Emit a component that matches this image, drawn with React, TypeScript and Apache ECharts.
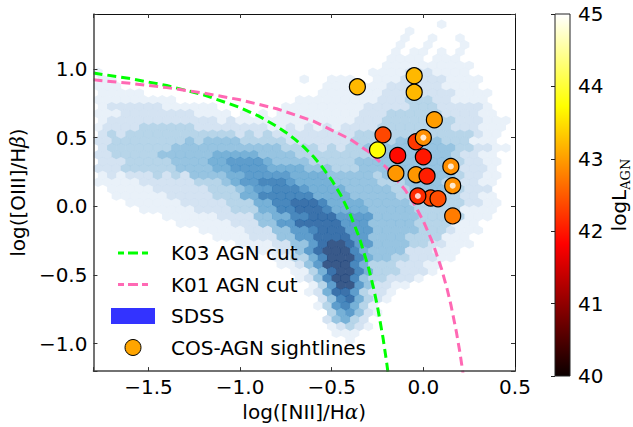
import React, { useEffect, useRef } from 'react';
import * as echarts from 'echarts';

// ---------------- data ----------------
// Kauffmann et al. (2003) demarcation
const k03X = [-1.8, -1.6, -1.4, -1.2, -1.0, -0.9, -0.8, -0.75, -0.7, -0.65, -0.6, -0.55, -0.5, -0.45, -0.4, -0.35, -0.3, -0.27, -0.25, -0.22, -0.2, -0.19];
const k03Y = [0.970, 0.930, 0.879, 0.812, 0.719, 0.658, 0.582, 0.538, 0.487, 0.429, 0.362, 0.283, 0.191, 0.080, -0.056, -0.225, -0.443, -0.606, -0.733, -0.959, -1.140, -1.242];
// Kewley et al. (2001) demarcation
const k01X = [-1.8, -1.6, -1.4, -1.2, -1.0, -0.8, -0.6, -0.4, -0.3, -0.2, -0.1, -0.05, 0.0, 0.05, 0.1, 0.13, 0.15, 0.18, 0.2, 0.22];
const k01Y = [0.921, 0.895, 0.864, 0.825, 0.775, 0.710, 0.620, 0.489, 0.398, 0.280, 0.120, 0.017, -0.108, -0.262, -0.459, -0.604, -0.716, -0.913, -1.069, -1.250];

// COS-AGN sightlines
const agnX = [-0.36, -0.05, -0.05, 0.06, -0.22, -0.04, 0.0, -0.25, -0.14, 0.0, 0.15, -0.15, -0.04, 0.02, 0.16, 0.04, 0.08, -0.03, 0.16];
const agnY = [0.87, 0.95, 0.83, 0.63, 0.52, 0.47, 0.50, 0.41, 0.37, 0.36, 0.29, 0.24, 0.23, 0.22, 0.15, 0.06, 0.055, 0.075, -0.07];
const agnLogL = [43.2, 43.2, 43.2, 43.0, 42.35, 42.25, 42.9, 43.75, 41.9, 42.0, 42.9, 42.95, 42.95, 42.05, 42.9, 42.35, 42.4, 42.15, 42.75];
const agnDot = [0, 0, 0, 0, 0, 0, 1, 0, 0, 0, 1, 0, 0, 0, 1, 0, 0, 1, 0];

// SDSS hexbin density levels (0-9), rows from top (y=1.375) downward, step 0.05; columns from x=-1.775, step 0.05
const SDSS_X0 = -1.775;
const SDSS_Y0 = 1.375;
const SDSS_STEP = 0.05;
const sdssRows = [
  '..........|..........|..........|..........|......',
  '..........|..........|..........|.......1..|......',
  '..........|..........|..........|....1.....|......',
  '..........|..........|..........|...1..1..1|......',
  '..........|..........|..........|...1..1...|1.....',
  '..........|..........|..........|..1.11.1.1|......',
  '..........|..........|..........|..1111.111|......',
  '..........|..........|..........|.111111111|1.....',
  '1.........|..........|..........|1111222111|1.....',
  '11........|..........|..1..111..|1112222211|11....',
  '111.......|..........|.....11111|1122222211|11....',
  '11111.....|..........|....111111|1222222221|111...',
  '111111111.|..........|..11111111|1222333221|111...',
  '1222222111|111.......|1111111112|2222333222|221...',
  '1112222222|21111.1.1.|1111111112|2233333322|2211..',
  '1222222222|2221211111|1111111122|2333333332|22111.',
  '1222233333|3222222221|1212121222|2333333332|22111.',
  '2323333333|3333323232|2222222233|3333333333|3211..',
  '2233333333|4344443333|3222222233|3334444433|3111..',
  '2333333344|4444444444|3333232334|3444444443|32211.',
  '2233333444|4445555544|4433333333|3444444443|2211..',
  '2223333344|4455666654|4443333344|4444444443|2211..',
  '2223333334|4445566665|5554443334|4444444443|2221..',
  '1212223232|4444556666|6555544444|3444444443|2211..',
  '1111122222|2333456677|7655554444|4333444433|2211..',
  '.111112222|2233345667|7765555444|4433444433|222...',
  '..11111122|2223335577|7777555544|4443333333|2211..',
  '...1111112|2222333557|7888755554|4444333333|2211..',
  '.....11111|1222233355|7788875555|4444433333|1111..',
  '.......111|1112222445|5778886666|4444433333|111...',
  '.........1|1111122244|6688888666|4444433331|11....',
  '..........|.111112224|4667888666|4444433321|11....',
  '..........|...1111222|4466888866|4444333311|1.....',
  '..........|.....11112|2446899866|4444332211|1.....',
  '..........|.......111|2246899975|4444222111|......',
  '..........|.........1|1335799975|4433222110|......',
  '..........|..........|1124699975|3332221100|......',
  '..........|..........|.113589975|3332221...|......',
  '..........|..........|..12479974|332221....|......',
  '..........|..........|...1369964|2211......|......',
  '..........|..........|...1258863|221.......|......',
  '..........|..........|....247853|21........|......',
  '..........|..........|....136753|1.........|......',
  '..........|..........|.....35642|1.........|......',
  '..........|..........|.....24532|..........|......',
  '..........|..........|.....12321|..........|......',
  '..........|..........|......111.|..........|......',
  '..........|..........|.......1..|..........|......',
];
const BLUES = ['', '#e3eef8', '#c9dcef', '#a5cbe3', '#7db5da', '#559ecd', '#3685bf', '#1c6aad', '#0a4f96', '#08306b'];

const xTicks = [-1.5, -1.0, -0.5, 0.0, 0.5];
const yTicks = [-1.0, -0.5, 0.0, 0.5, 1.0];
const cbTicks = [40, 41, 42, 43, 44, 45];

// ---------------- layout ----------------
const X_MIN = -1.8, X_MAX = 0.5, Y_MIN = -1.2, Y_MAX = 1.4;
const G = { left: 93, top: 14, width: 422, height: 362 };
const CB = { left: 555, top: 14, width: 20, height: 362 };
const FONT = 'DejaVu Sans';
const FS = 20;
// dashed-line legend icon drawn in a 44x16 box (invisible corner points fix the box)
const DASH_ICON = 'path://M0,0L0.01,0M44,16L43.99,16M7,6.5h6v3h-6zM17,6.5h10v3h-10zM31,6.5h6v3h-6z';

function hot(t: number): string {
  const c = (v: number) => Math.max(0, Math.min(1, v));
  const r = c(0.0416 + (t / 0.365) * (1 - 0.0416));
  const g = c((t - 0.365) / 0.381);
  const b = c((t - 0.746) / 0.254);
  const h = (v: number) => Math.round(v * 255).toString(16).padStart(2, '0');
  return '#' + h(r) + h(g) + h(b);
}
const hotColors = Array.from({ length: 41 }, (_, k) => hot(k / 40));

const fmt = (v: number) => {
  const hit = [...xTicks, ...yTicks].some((t) => Math.abs(t - v) < 1e-6);
  if (!hit) return '';
  return v.toFixed(1).replace('-', '\u2212');
};

function buildOption() {
  const pxPerX = G.width / (X_MAX - X_MIN);
  const pxPerY = G.height / (Y_MAX - Y_MIN);
  const hexW = SDSS_STEP * pxPerX + 0.3;
  const hexH = (SDSS_STEP * pxPerY) / 0.75 + 0.3;

  const hexData: any[] = [];
  sdssRows.forEach((row, j) => {
    const r = row.replace(/\|/g, '');
    for (let i = 0; i < r.length; i++) {
      const ch = r[i];
      if (ch === '.' || ch === '0') continue;
      const lvl = Number(ch);
      const x = SDSS_X0 + i * SDSS_STEP + (j % 2 ? SDSS_STEP / 2 : 0);
      const y = SDSS_Y0 - j * SDSS_STEP;
      hexData.push({ value: [x, y, lvl], itemStyle: { color: BLUES[lvl] } });
    }
  });

  const agnData = agnX.map((x, k) => [x, agnY[k], agnLogL[k]]);
  const dotData = agnX.map((x, k) => [x, agnY[k]]).filter((_, k) => agnDot[k] === 1);

  const axisLineLB = { show: true, onZero: false, lineStyle: { color: '#444', width: 1.5 } };
  const axisLineTR = { show: true, onZero: false, lineStyle: { color: '#111', width: 1 } };
  const tick = { show: true, inside: true, length: 4, lineStyle: { color: '#333' } };
  const lbl = { fontSize: FS, color: '#000', fontFamily: FONT };

  return {
    animation: false,
    backgroundColor: '#fff',
    grid: [
      { ...G, containLabel: false },
      { ...CB, containLabel: false },
    ],
    xAxis: [
      {
        type: 'value', gridIndex: 0, min: X_MIN, max: X_MAX, position: 'bottom', z: 10,
        axisLine: axisLineLB, axisTick: tick, splitLine: { show: false },
        axisLabel: { ...lbl, margin: 6, formatter: fmt },
        name: '{a|log([NII]/H}{b|\u03b1}{a|)}', nameLocation: 'middle', nameGap: 25,
        nameTextStyle: {
          rich: {
            a: { fontSize: FS, fontFamily: FONT, color: '#000' },
            b: { fontSize: FS, fontFamily: 'DejaVu Serif', fontStyle: 'italic', color: '#000' },
          },
        },
      },
      {
        type: 'value', gridIndex: 0, min: X_MIN, max: X_MAX, position: 'top', z: 10,
        axisLine: axisLineTR, axisTick: tick, axisLabel: { show: false }, splitLine: { show: false },
      },
      {
        type: 'value', gridIndex: 1, min: 0, max: 1, show: false,
      },
    ],
    yAxis: [
      {
        type: 'value', gridIndex: 0, min: Y_MIN, max: Y_MAX, position: 'left', z: 10,
        axisLine: axisLineLB, axisTick: tick, splitLine: { show: false },
        axisLabel: { ...lbl, margin: 6, formatter: fmt },
        name: '{a|log([OIII]/H}{b|\u03b2}{a|)}', nameLocation: 'middle', nameGap: 47, nameRotate: 90,
        nameTextStyle: {
          rich: {
            a: { fontSize: FS, fontFamily: FONT, color: '#000' },
            b: { fontSize: FS, fontFamily: 'DejaVu Serif', fontStyle: 'italic', color: '#000' },
          },
        },
      },
      {
        type: 'value', gridIndex: 0, min: Y_MIN, max: Y_MAX, position: 'right', z: 10,
        axisLine: axisLineTR, axisTick: tick, axisLabel: { show: false }, splitLine: { show: false },
      },
      {
        type: 'value', gridIndex: 1, min: cbTicks[0], max: cbTicks[cbTicks.length - 1], interval: 1,
        position: 'right', z: 10,
        axisLine: { show: false },
        axisTick: { show: true, inside: true, length: 4, lineStyle: { color: '#222' } },
        splitLine: { show: false },
        axisLabel: { ...lbl, margin: 8 },
        name: '{a|logL}{b|AGN}', nameLocation: 'middle', nameGap: 36, nameRotate: 90,
        nameTextStyle: {
          rich: {
            a: { fontSize: FS, fontFamily: FONT, color: '#000', lineHeight: 26 },
            b: { fontSize: 13, fontFamily: 'DejaVu Serif', color: '#000', lineHeight: 13, verticalAlign: 'bottom' },
          },
        },
      },
    ],
    visualMap: [
      { show: false, type: 'continuous', seriesIndex: 3, dimension: 2, min: 40, max: 45, inRange: { color: hotColors } },
    ],
    legend: {
      orient: 'vertical', left: 111, top: 243, padding: 0, itemGap: 11.5, itemWidth: 44, itemHeight: 16,
      selectedMode: false,
      textStyle: { fontSize: FS, color: '#000', fontFamily: FONT, padding: [0, 0, 0, 11] },
      data: [
        { name: 'K03 AGN cut', icon: DASH_ICON, itemStyle: { color: '#00ff00' } },
        { name: 'K01 AGN cut', icon: DASH_ICON, itemStyle: { color: '#ff69b4' } },
        { name: 'SDSS', icon: 'rect', itemStyle: { color: '#0000ff' } },
        { name: 'COS-AGN sightlines', icon: 'circle', itemStyle: { color: '#ffa500', borderColor: '#000', borderWidth: 1 } },
      ],
    },
    series: [
      {
        name: 'SDSS', type: 'scatter', xAxisIndex: 0, yAxisIndex: 0, silent: true, progressive: 0,
        symbol: 'path://M0,-2L1.732,-1L1.732,1L0,2L-1.732,1L-1.732,-1Z',
        symbolSize: [hexW, hexH], symbolKeepAspect: false,
        itemStyle: { color: '#0000ff' }, data: hexData, z: 1,
      },
      {
        name: 'K03 AGN cut', type: 'line', xAxisIndex: 0, yAxisIndex: 0, symbol: 'none', clip: true, silent: true,
        lineStyle: { color: '#00ff00', width: 3, type: [9, 5] }, itemStyle: { color: '#00ff00' },
        data: k03X.map((x, k) => [x, k03Y[k]]), z: 3,
      },
      {
        name: 'K01 AGN cut', type: 'line', xAxisIndex: 0, yAxisIndex: 0, symbol: 'none', clip: true, silent: true,
        lineStyle: { color: '#ff69b4', width: 3, type: [9, 5] }, itemStyle: { color: '#ff69b4' },
        data: k01X.map((x, k) => [x, k01Y[k]]), z: 3,
      },
      {
        name: 'COS-AGN sightlines', type: 'scatter', xAxisIndex: 0, yAxisIndex: 0, silent: true,
        symbol: 'circle', symbolSize: 16,
        itemStyle: { borderColor: '#000', borderWidth: 1.2, opacity: 1 },
        data: agnData, z: 4,
      },
      {
        name: 'dots', type: 'scatter', xAxisIndex: 0, yAxisIndex: 0, silent: true,
        symbol: 'circle', symbolSize: 6, itemStyle: { color: '#ffffff' },
        data: dotData, z: 5,
      },
      {
        name: 'colorbar', type: 'custom', xAxisIndex: 2, yAxisIndex: 2, silent: true,
        data: [[0, cbTicks[0], 1, cbTicks[cbTicks.length - 1]]],
        renderItem: (_p: any, api: any) => {
          const p0 = api.coord([api.value(0), api.value(1)]);
          const p1 = api.coord([api.value(2), api.value(3)]);
          return {
            type: 'rect',
            shape: { x: p0[0], y: p1[1], width: p1[0] - p0[0], height: p0[1] - p1[1] },
            style: {
              fill: new echarts.graphic.LinearGradient(0, 1, 0, 0, [
                { offset: 0, color: '#0b0000' },
                { offset: 0.365, color: '#ff0000' },
                { offset: 0.746, color: '#ffff00' },
                { offset: 1, color: '#ffffff' },
              ]),
              stroke: '#222',
              lineWidth: 1,
            },
          };
        },
        z: 1,
      },
    ],
  };
}

export default function App() {
  const ref = useRef<HTMLDivElement>(null);
  useEffect(() => {
    if (!ref.current) return;
    const chart = echarts.init(ref.current, null, { renderer: 'svg' });
    chart.setOption(buildOption() as any);
    return () => chart.dispose();
  }, []);
  return (
    <div
      ref={ref}
      style={{ position: 'fixed', left: 0, top: 0, width: 633, height: 427, background: '#fff' }}
    />
  );
}
